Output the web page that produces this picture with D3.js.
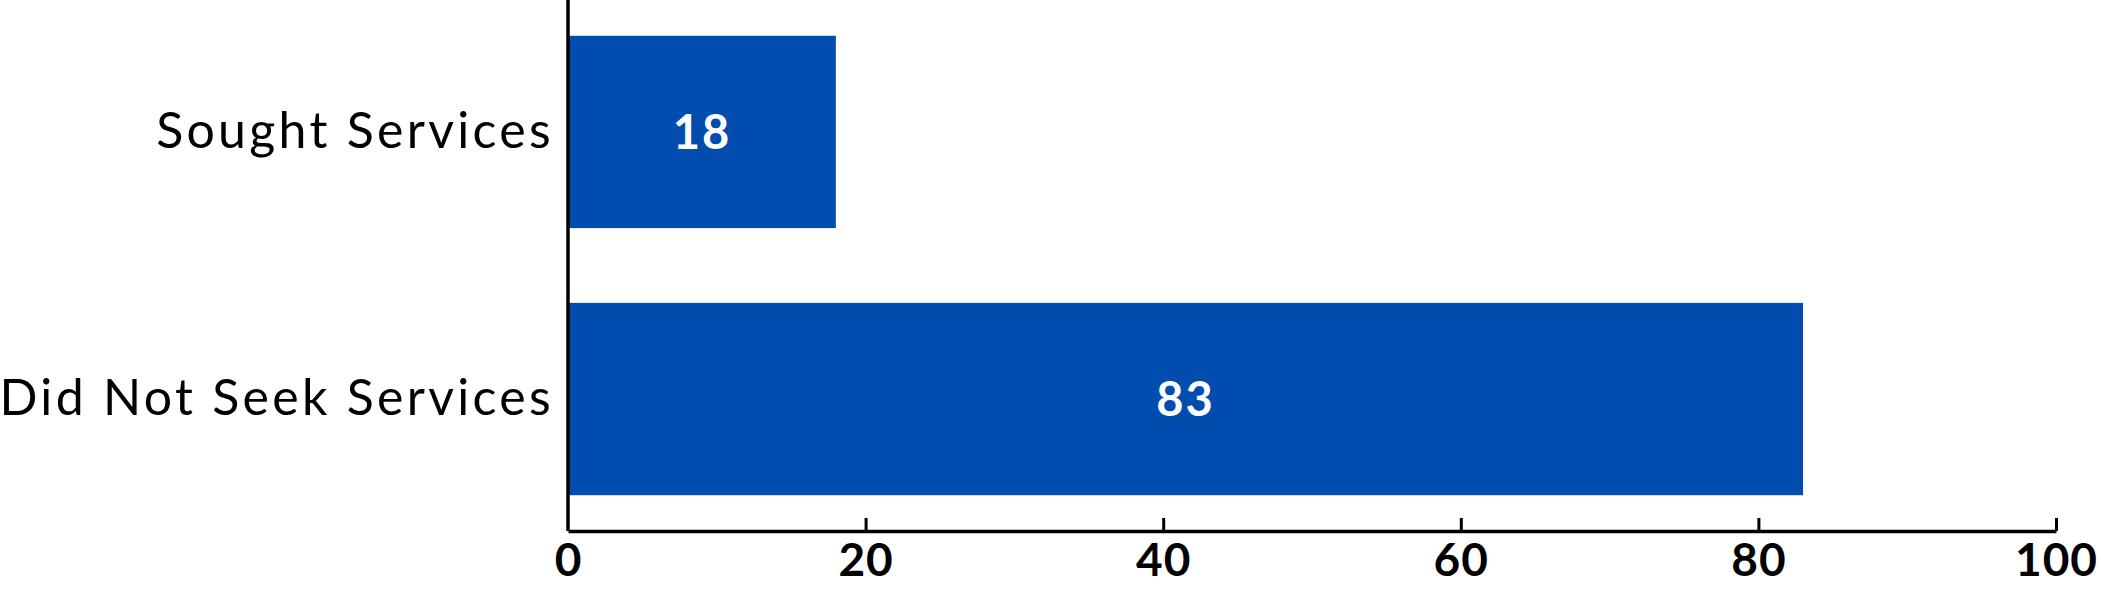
<!DOCTYPE html>
<html>
<head>
<meta charset="utf-8">
<script src="https://cdn.jsdelivr.net/npm/d3@7"></script>
<style>
  body { margin: 0; background: #fff; }
  svg { display: block; }
</style>
</head>
<body>
<svg id="chart" width="2101" height="589"></svg>
<script>
// data
const categories = ['Sought Services', 'Did Not Seek Services']
const values = [18, 83]
const xTicks = [0, 20, 40, 60, 80, 100]

const width = 2101
const height = 589
const margin = { top: 0, right: 45, bottom: 58, left: 568 }

const svg = d3.select('#chart')
const g = svg.append('g').attr('transform', `translate(${margin.left},${margin.top})`)

const innerW = width - margin.left - margin.right
const innerH = height - margin.top - margin.bottom

const x = d3.scaleLinear().domain([0, 100]).range([0, innerW])
const y = d3.scaleBand()
  .domain(categories)
  .range([0, innerH])
  .paddingInner(0.28)
  .paddingOuter(0.134)

const data = categories.map((c, i) => ({ cat: c, value: values[i] }))

g.selectAll('rect.bar')
  .data(data)
  .join('rect')
  .attr('class', 'bar')
  .attr('x', 0)
  .attr('y', d => y(d.cat))
  .attr('width', d => x(d.value))
  .attr('height', y.bandwidth())
  .style('fill', '#014DAF')

g.selectAll('text.value')
  .data(data)
  .join('text')
  .attr('class', 'value')
  .attr('x', d => x(d.value) / 2)
  .attr('y', d => y(d.cat) + y.bandwidth() / 2)
  .attr('dy', '0.36em')
  .attr('text-anchor', 'middle')
  .style('fill', '#fff')
  .style('font-family', 'Lato, sans-serif')
  .style('font-weight', 'bold')
  .style('font-size', '47px')
  .style('letter-spacing', '2px')
  .text(d => d.value)

// x axis, ticks pointing up into the plot
const xAxis = g.append('g')
  .attr('transform', `translate(0,${innerH})`)
  .call(d3.axisBottom(x).tickValues(xTicks).tickSizeInner(-13).tickSizeOuter(0).tickPadding(12))
xAxis.select('.domain').attr('stroke', '#000').attr('stroke-width', 3.5)
xAxis.selectAll('.tick line').attr('stroke', '#000').attr('stroke-width', 3)
xAxis.selectAll('.tick text')
  .attr('y', 12)
  .style('fill', '#000')
  .style('font-family', 'Lato, sans-serif')
  .style('font-weight', 'bold')
  .style('font-size', '46px')
  .style('letter-spacing', '1px')
xAxis.selectAll('.tick').filter(d => d === 0).select('line').remove()

// y axis, a bare line with category labels
const yAxis = g.append('g')
  .call(d3.axisLeft(y).tickSize(0).tickPadding(14))
yAxis.select('.domain').attr('d', `M0,0V${innerH}`).attr('stroke', '#000').attr('stroke-width', 3.5)
yAxis.selectAll('.tick text')
  .style('fill', '#000')
  .style('font-family', 'Lato, sans-serif')
  .style('font-size', '50px')
  .style('letter-spacing', '3.3px')
</script>
</body>
</html>
